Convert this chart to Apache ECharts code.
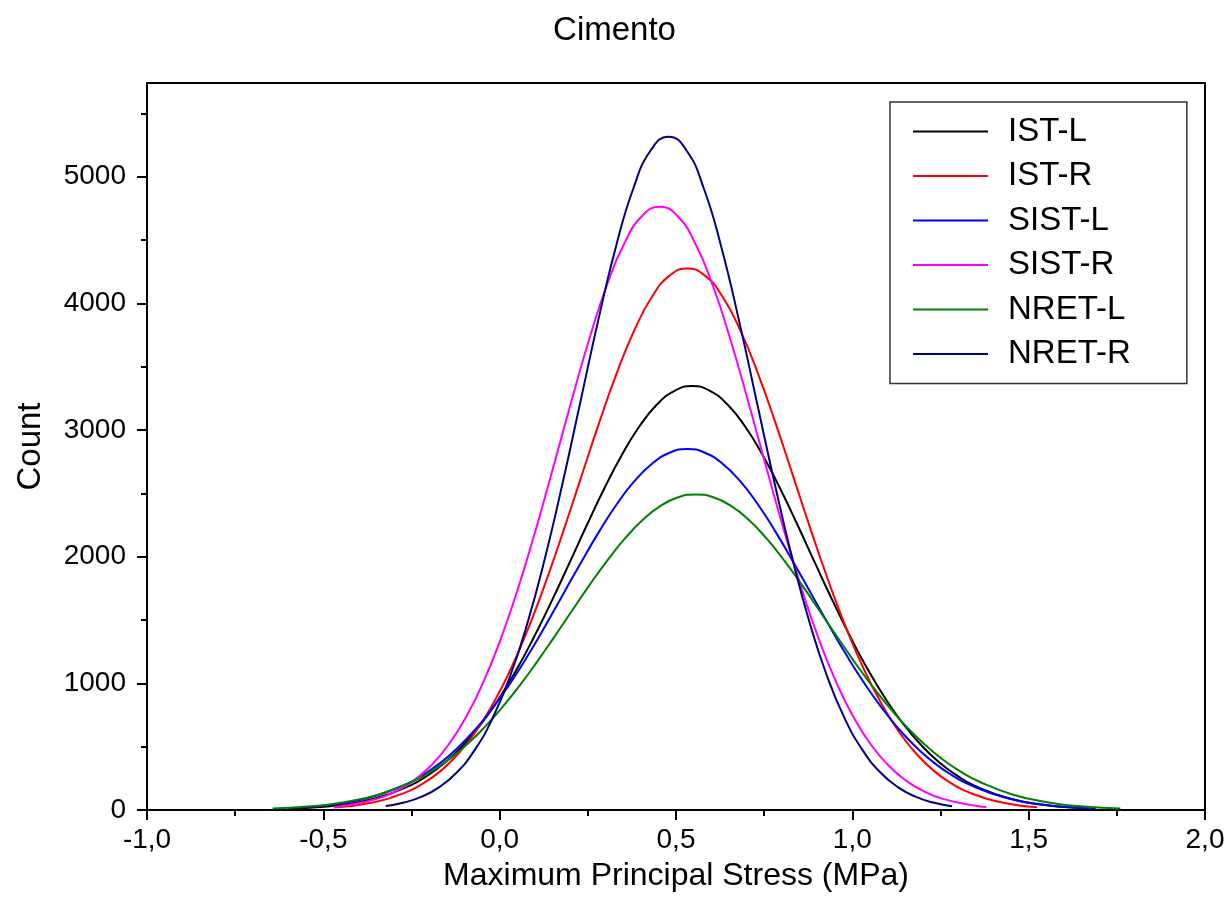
<!DOCTYPE html>
<html>
<head>
<meta charset="utf-8">
<script src="https://cdn.jsdelivr.net/npm/echarts@6/dist/echarts.min.js"></script>
<style>
  html, body { margin: 0; padding: 0; background: #fff; }
  #chart { width: 1229px; height: 912px; }
</style>
</head>
<body>
<div id="chart"></div>
<script>
// ---- Data ----
const seriesNames = ['IST-L', 'IST-R', 'SIST-L', 'SIST-R', 'NRET-L', 'NRET-R'];
const seriesColors = ['#000000', '#ff0000', '#0000ff', '#ff00ff', '#008000', '#000080'];

const istL_x = [-0.6, -0.554, -0.454, -0.354, -0.254, -0.204, -0.154, -0.104, -0.054, -0.004, 0.046, 0.096, 0.146, 0.196, 0.246, 0.296, 0.346, 0.396, 0.446, 0.496, 0.546, 0.596, 0.646, 0.696, 0.746, 0.796, 0.846, 0.896, 0.946, 0.996, 1.046, 1.096, 1.146, 1.196, 1.246, 1.296, 1.346, 1.446, 1.546, 1.646, 1.69];
const istL_y = [10, 15, 39, 91, 193, 273, 377, 510, 673, 870, 1099, 1358, 1641, 1939, 2242, 2534, 2801, 3028, 3201, 3310, 3347, 3310, 3201, 3028, 2801, 2534, 2242, 1939, 1641, 1358, 1099, 870, 673, 510, 377, 273, 193, 91, 39, 15, 10];

const istR_x = [-0.47, -0.368, -0.268, -0.218, -0.168, -0.118, -0.068, -0.018, 0.032, 0.082, 0.132, 0.182, 0.232, 0.282, 0.332, 0.382, 0.432, 0.482, 0.532, 0.582, 0.632, 0.682, 0.732, 0.782, 0.832, 0.882, 0.932, 0.982, 1.032, 1.082, 1.132, 1.182, 1.232, 1.282, 1.332, 1.432, 1.524];
const istR_y = [19, 55, 137, 208, 307, 442, 618, 842, 1116, 1440, 1810, 2214, 2636, 3056, 3449, 3789, 4052, 4219, 4276, 4219, 4052, 3789, 3449, 3056, 2636, 2214, 1810, 1440, 1116, 842, 618, 442, 307, 208, 137, 55, 22];

const sistL_x = [-0.55, -0.468, -0.368, -0.268, -0.218, -0.168, -0.118, -0.068, -0.018, 0.032, 0.082, 0.132, 0.182, 0.232, 0.282, 0.332, 0.382, 0.432, 0.482, 0.532, 0.582, 0.632, 0.682, 0.732, 0.782, 0.832, 0.882, 0.932, 0.982, 1.032, 1.082, 1.132, 1.182, 1.232, 1.282, 1.332, 1.432, 1.532, 1.632, 1.68];
const sistL_y = [22, 45, 99, 200, 276, 372, 493, 639, 812, 1009, 1229, 1467, 1714, 1961, 2198, 2414, 2596, 2734, 2821, 2850, 2821, 2734, 2596, 2414, 2198, 1961, 1714, 1467, 1229, 1009, 812, 639, 493, 372, 276, 200, 99, 45, 19, 12];

const sistR_x = [-0.47, -0.446, -0.346, -0.296, -0.246, -0.196, -0.146, -0.096, -0.046, 0.004, 0.054, 0.104, 0.154, 0.204, 0.254, 0.304, 0.354, 0.404, 0.454, 0.504, 0.554, 0.604, 0.654, 0.704, 0.754, 0.804, 0.854, 0.904, 0.954, 1.004, 1.054, 1.104, 1.154, 1.204, 1.254, 1.354, 1.38];
const sistR_y = [24, 31, 90, 146, 228, 347, 511, 730, 1011, 1357, 1766, 2229, 2726, 3233, 3717, 4143, 4477, 4690, 4763, 4690, 4477, 4143, 3717, 3233, 2726, 2229, 1766, 1357, 1011, 730, 511, 347, 228, 146, 90, 31, 23];

const nretL_x = [-0.644, -0.544, -0.444, -0.344, -0.244, -0.194, -0.144, -0.094, -0.044, 0.006, 0.056, 0.106, 0.156, 0.206, 0.256, 0.306, 0.356, 0.406, 0.456, 0.506, 0.556, 0.606, 0.656, 0.706, 0.756, 0.806, 0.856, 0.906, 0.956, 1.006, 1.056, 1.106, 1.156, 1.206, 1.256, 1.306, 1.356, 1.456, 1.556, 1.656, 1.76];
const nretL_y = [12, 27, 60, 121, 229, 305, 400, 515, 650, 806, 980, 1170, 1371, 1577, 1781, 1973, 2146, 2291, 2401, 2469, 2492, 2469, 2401, 2291, 2146, 1973, 1781, 1577, 1371, 1170, 980, 806, 650, 515, 400, 305, 229, 121, 60, 27, 11];

const nretR_x = [-0.323, -0.271, -0.221, -0.171, -0.121, -0.071, -0.021, 0.029, 0.079, 0.129, 0.179, 0.229, 0.279, 0.329, 0.379, 0.429, 0.479, 0.529, 0.579, 0.629, 0.679, 0.729, 0.779, 0.829, 0.879, 0.929, 0.979, 1.029, 1.079, 1.129, 1.179, 1.229, 1.283];
const nretR_y = [31, 59, 105, 181, 298, 473, 719, 1052, 1478, 1995, 2588, 3224, 3860, 4440, 4907, 5211, 5316, 5211, 4907, 4440, 3860, 3224, 2588, 1995, 1478, 1052, 719, 473, 298, 181, 105, 59, 30];

const yMajorTicks = [0, 1000, 2000, 3000, 4000, 5000];
const yMinorTicks = [500, 1500, 2500, 3500, 4500, 5500];

const allX = [istL_x, istR_x, sistL_x, sistR_x, nretL_x, nretR_x];
const allY = [istL_y, istR_y, sistL_y, sistR_y, nretL_y, nretR_y];

// ---- Chart ----
const FONT = 'Liberation Sans, Arial, sans-serif';
const chart = echarts.init(document.getElementById('chart'), null, { renderer: 'canvas' });

const series = seriesNames.map((name, i) => ({
  name: name,
  type: 'line',
  data: allX[i].map((x, k) => [x, allY[i][k]]),
  showSymbol: false,
  smooth: 0.5,
  lineStyle: { color: seriesColors[i], width: 2 },
  itemStyle: { color: seriesColors[i] },
  emphasis: { disabled: true }
}));

chart.setOption({
  animation: false,
  backgroundColor: '#ffffff',
  title: {
    text: 'Cimento',
    left: 'center',
    top: 9,
    textStyle: { fontFamily: FONT, fontSize: 33, fontWeight: 'normal', color: '#000' }
  },
  legend: {
    data: seriesNames,
    orient: 'vertical',
    left: 890,
    top: 102,
    padding: [13, 56, 13, 23],
    itemWidth: 75,
    itemHeight: 2,
    itemGap: 11.5,
    icon: 'rect',
    borderColor: '#333',
    borderWidth: 1.5,
    backgroundColor: '#fff',
    textStyle: { fontFamily: FONT, fontSize: 33, color: '#000', padding: [0, 0, 0, 15] }
  },
  grid: {
    left: 147, right: 24, top: 83, bottom: 102,
    show: true, borderColor: '#000', borderWidth: 2, backgroundColor: 'transparent'
  },
  xAxis: {
    type: 'value',
    min: -1, max: 2, interval: 0.5,
    name: 'Maximum Principal Stress (MPa)',
    nameLocation: 'middle',
    nameGap: 50,
    nameTextStyle: { fontFamily: FONT, fontSize: 32, color: '#000' },
    axisLine: { show: true, onZero: false, lineStyle: { color: '#000', width: 2 } },
    axisTick: { show: true, inside: false, length: 10, lineStyle: { color: '#000', width: 2 } },
    minorTick: { show: true, splitNumber: 2, length: 6, lineStyle: { color: '#000', width: 2 } },
    splitLine: { show: false },
    minorSplitLine: { show: false },
    axisLabel: {
      fontFamily: FONT, fontSize: 28, color: '#000', margin: 16,
      formatter: v => v.toFixed(1).replace('.', ',')
    }
  },
  yAxis: [
    {
      type: 'value',
      min: 0, max: 5740, interval: 1000,
      name: 'Count',
      nameLocation: 'middle',
      nameGap: 100,
      nameTextStyle: { fontFamily: FONT, fontSize: 33, color: '#000' },
      axisLine: { show: true, onZero: false, lineStyle: { color: '#000', width: 2 } },
      axisTick: { show: true, inside: false, length: 10, customValues: yMajorTicks, lineStyle: { color: '#000', width: 2 } },
      splitLine: { show: false },
      axisLabel: {
        fontFamily: FONT, fontSize: 28, color: '#000', margin: 21,
        customValues: yMajorTicks,
        formatter: v => String(v)
      }
    },
    {
      type: 'value',
      min: 0, max: 5740,
      position: 'left',
      axisLine: { show: false, onZero: false },
      axisTick: { show: true, inside: false, length: 6, customValues: yMinorTicks, lineStyle: { color: '#000', width: 2 } },
      axisLabel: { show: false },
      splitLine: { show: false }
    }
  ],
  series: series
});
</script>
</body>
</html>
